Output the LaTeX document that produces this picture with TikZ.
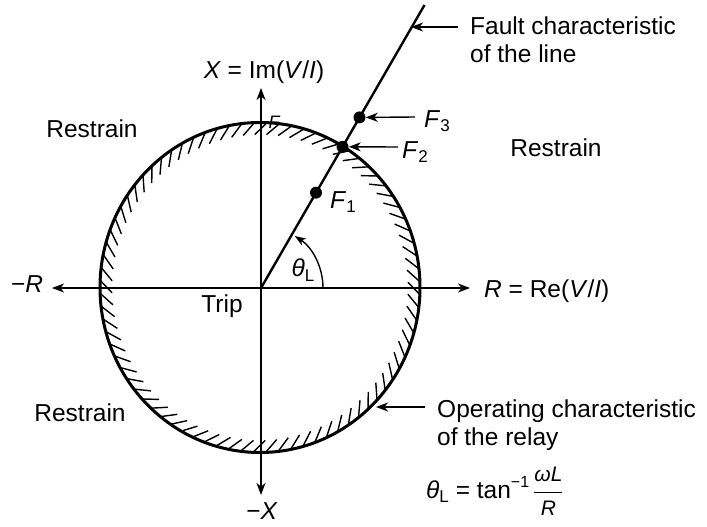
\documentclass[tikz,border=0pt]{standalone}
\usepackage{fontspec}
\setmainfont{Liberation Sans}
\usetikzlibrary{arrows.meta}
\newcommand{\sbs}[1]{\raisebox{-0.35ex}{\fontsize{17}{17}\selectfont #1}}
\newcommand{\sps}[1]{\raisebox{0.85ex}{\fontsize{16}{16}\selectfont #1}}
\begin{document}
\begin{tikzpicture}[x=1pt,y=1pt,
  lbl/.style={font=\fontsize{24.5}{28}\selectfont, inner sep=0pt, align=left},
  arr/.style={line width=1.4pt,-{Stealth[length=12pt,width=9pt,inset=3.5pt]}},
  relay/.style={line width=3pt},
  hatch/.style={line width=1.4pt},
  fault/.style={line width=2.4pt},
  fdot/.style={circle,fill,inner sep=0pt,minimum size=12pt}]
\useasboundingbox (0,0) rectangle (707,-527);
% axes
\coordinate (O) at (261,-288);
\coordinate (Rl) at (52,-288);
\coordinate (Rr) at (470,-288);
\coordinate (Xt) at (261,-88);
\coordinate (Xb) at (261,-495);
\draw[arr] (O) -- (Rl);
\draw[arr] (O) -- (Rr);
\draw[arr] (O) -- (Xt);
\draw[arr] (O) -- (Xb);
% relay circle
\coordinate (C) at (260,-287.5);
\draw[relay] (C) ellipse [x radius=160, y radius=165];
\foreach \a in {2,6.5,...,358}
  \draw[hatch] ({260+160*cos(\a)},{-287.5+165*sin(\a)}) -- ({260+148*cos(\a+4.5)},{-287.5+153*sin(\a+4.5)});
% fault line
\coordinate (Ftop) at (424.5,-5);
\draw[fault] (O) -- (Ftop);
\node[fdot] (F1) at (316,-192.7) {};
\node[fdot] (F2) at (342.5,-146.8) {};
\node[fdot] (F3) at (359.5,-117.4) {};
% angle arc
\draw[line width=1.4pt,-{Stealth[length=11pt,width=8pt,inset=3pt]}] (323,-288) arc[start angle=0,end angle=57,radius=62];
\node[lbl] (th) at (303,-270) {\textit{θ}\sbs{L}};
% pointer arrows
\coordinate (a2) at (398,-147);
\coordinate (a3) at (415,-117);
\coordinate (af) at (458,-27);
\coordinate (afe) at (411,-27);
\coordinate (ao) at (425,-407);
\coordinate (aoe) at (376,-407);
\draw[arr] (a2) -- (F2.east);
\draw[arr] (a3) -- (F3.east);
\draw[arr] (af) -- (afe);
\draw[arr] (ao) -- (aoe);
% labels
\node[lbl] (lF1) at (343,-202) {\textit{F}\sbs{1}};
\node[lbl] (lF2) at (415,-152) {\textit{F}\sbs{2}};
\node[lbl] (lF3) at (437,-121) {\textit{F}\sbs{3}};
\node[inner sep=0pt,font=\fontsize{18}{18}\selectfont\itshape] (stray) at (274,-122) {F};
\node[lbl] (X) at (264,-72) {\textit{X} = Im(\textit{V}/\textit{I})};
\node[lbl] (mX) at (262,-511) {−\textit{X}};
\node[lbl] (mR) at (27,-284) {−\textit{R}};
\node[lbl,anchor=west] (R) at (484,-291) {\textit{R} = Re(\textit{V}/\textit{I})};
\node[lbl] (trip) at (222,-306) {Trip};
\node[lbl] (r1) at (92,-129) {Restrain};
\node[lbl] (r2) at (556,-148) {Restrain};
\node[lbl] (r3) at (80,-413) {Restrain};
\node[lbl,anchor=north west] (fc) at (470,-17) {Fault characteristic\\of the line};
\node[lbl,anchor=north west] (oc) at (437,-400) {Operating characteristic\\of the relay};
\node[lbl,anchor=base west] (form) at (426,-498) {\textit{θ}\sbs{L} = tan\sps{−1}\,$\displaystyle\frac{\hbox{\fontsize{21}{21}\selectfont\itshape ωL}}{\hbox{\fontsize{21}{21}\selectfont\itshape R}}$};
\end{tikzpicture}
\end{document}
